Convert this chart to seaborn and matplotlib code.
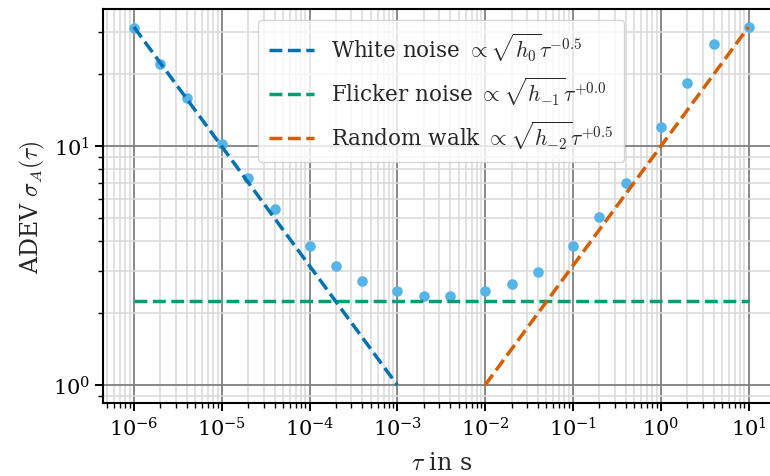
import numpy as np
import pandas as pd
import matplotlib
matplotlib.use("Agg")
import matplotlib.pyplot as plt
import seaborn as sns
from matplotlib.ticker import LogLocator, NullFormatter, FixedLocator, LogFormatterSciNotation

# measured ADEV points
tau = [1e-6, 2e-6, 4e-6, 1e-5, 2e-5, 4e-5, 1e-4, 2e-4, 4e-4, 1e-3, 2e-3, 4e-3,
       1e-2, 2e-2, 4e-2, 1e-1, 2e-1, 4e-1, 1e0, 2e0, 4e0, 1e1]
adev = [31.4, 22.2, 15.9, 10.2, 7.35, 5.44, 3.84, 3.14, 2.74, 2.47, 2.37, 2.37,
        2.48, 2.65, 2.97, 3.83, 5.05, 7.0, 12.1, 18.5, 26.8, 31.6]

# noise model lines (endpoints)
white_tau = [1e-6, 1e-3]
white_adev = [31.6, 1.0]
flicker_tau = [1e-6, 1e1]
flicker_adev = [2.24, 2.24]
rw_tau = [1e-2, 1e1]
rw_adev = [1.0, 31.6]

# tick positions
x_ticks = [1e-6, 1e-5, 1e-4, 1e-3, 1e-2, 1e-1, 1e0, 1e1]
y_ticks = [1e0, 1e1]

labels = [r"White noise $\propto \sqrt{h_0}\tau^{-0.5}$",
          r"Flicker noise $\propto \sqrt{h_{-1}}\tau^{+0.0}$",
          r"Random walk $\propto \sqrt{h_{-2}}\tau^{+0.5}$"]
colors = ["#0072B2", "#009E73", "#D55E00"]

sns.set_theme(style="white")
plt.rcParams["font.family"] = ["DejaVu Serif"]
plt.rcParams["mathtext.fontset"] = "cm"

fig = plt.figure(figsize=(7.7, 4.77), dpi=100)
ax = fig.add_axes([0.134, 0.153, 0.878, 0.826])

ax.set_xscale("log")
ax.set_yscale("log")

sns.scatterplot(x=tau, y=adev, ax=ax, color="#56B4E9", s=58, linewidth=0, zorder=3)
for (tx, ty), lab, col in zip([(white_tau, white_adev), (flicker_tau, flicker_adev), (rw_tau, rw_adev)],
                              labels, colors):
    sns.lineplot(x=tx, y=ty, ax=ax, color=col, linestyle="--", linewidth=2.5, label=lab, zorder=4)

ax.set_xlim(10**-6.35, 10**1.35)
ax.set_ylim(10**-0.075, 10**1.575)

ax.xaxis.set_major_locator(FixedLocator(x_ticks))
ax.xaxis.set_major_formatter(LogFormatterSciNotation())
ax.yaxis.set_major_locator(FixedLocator(y_ticks))
ax.yaxis.set_major_formatter(LogFormatterSciNotation())
ax.xaxis.set_minor_locator(LogLocator(base=10, subs=np.arange(2, 10), numticks=20))
ax.xaxis.set_minor_formatter(NullFormatter())
ax.yaxis.set_minor_formatter(NullFormatter())

ax.grid(True, which="major", color="#7f7f7f", linewidth=1.3)
ax.grid(True, which="minor", color="#d9d9d9", linewidth=1.1)
ax.set_axisbelow(True)

for s in ["left", "bottom", "top", "right"]:
    ax.spines[s].set_visible(True)
    ax.spines[s].set_color("black")
    ax.spines[s].set_linewidth(1.5)

ax.tick_params(which="major", direction="out", length=6, width=1.4, colors="black",
               labelsize=15, left=True, bottom=True)
ax.tick_params(which="minor", direction="out", length=3.5, width=1.0, colors="black",
               left=True, bottom=True)

ax.set_xlabel(r"$\tau$ in s", fontsize=17, labelpad=8)
ax.set_ylabel(r"ADEV $\sigma_A(\tau)$", fontsize=17)

leg = ax.legend(loc="upper center", fontsize=15.5, frameon=True, fancybox=True,
                framealpha=0.8, edgecolor="#cccccc", labelspacing=0.55,
                handlelength=2.1, borderpad=0.5)

fig.savefig("out.png", dpi=100)
